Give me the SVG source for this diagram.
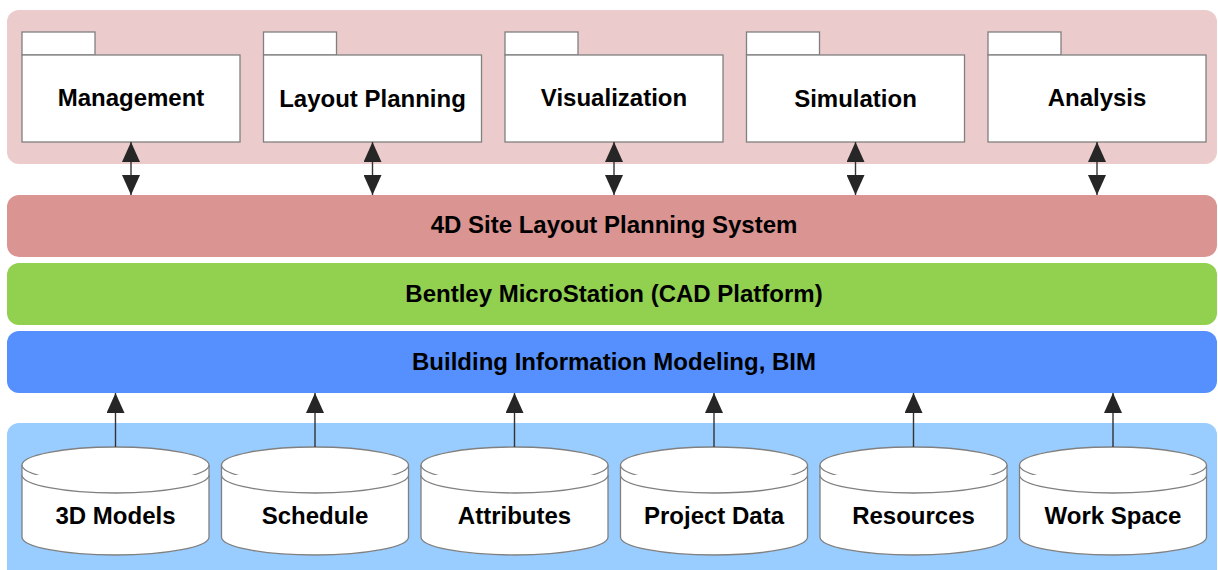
<svg xmlns="http://www.w3.org/2000/svg" width="1218" height="570" viewBox="0 0 1218 570">
<style>
text{font-family:"Liberation Sans",Arial,sans-serif;font-weight:bold;font-size:24px;fill:#000;text-anchor:middle}
.pkg{fill:#fff;stroke:#808080;stroke-width:1.3}
.cyl{fill:#fff;stroke:#808080;stroke-width:1.3}
.con{stroke:#333;stroke-width:1.4;fill:none}
</style>
<defs>
<marker id="ah" viewBox="0 0 20 18" refX="20" refY="9" markerWidth="20" markerHeight="18" markerUnits="userSpaceOnUse" orient="auto-start-reverse">
<path d="M0,0 L20,9 L0,18 Z" fill="#262626"/>
</marker>
<g id="cylshape">
<path class="cyl" d="M-93.5,465 A93.5,18 0 0 1 93.5,465 L93.5,537 A93.5,18 0 0 1 -93.5,537 Z"/>
<path class="cyl" fill="none" d="M-93.5,465 A93.5,18 0 0 0 93.5,465"/>
<path class="cyl" fill="none" d="M-93.5,475 A93.5,18 0 0 0 93.5,475"/>
</g>
</defs>
<g id="layers">
<rect x="7" y="10" width="1210" height="154" rx="12" fill="#EBCBCB"/>
<rect x="7" y="423" width="1210" height="160" rx="12" fill="#99CCFF"/>
</g>
<g id="bar-4d"><rect x="7" y="195" width="1210" height="62" rx="12" fill="#DA9491"/><text x="614" y="233">4D Site Layout Planning System</text></g>
<g id="bar-cad"><rect x="7" y="263" width="1210" height="62" rx="12" fill="#92D050"/><text x="614" y="302">Bentley MicroStation (CAD Platform)</text></g>
<g id="bar-bim"><rect x="7" y="331" width="1210" height="62" rx="12" fill="#5590FE"/><text x="614" y="370">Building Information Modeling, BIM</text></g>
<g id="pkg-management"><rect class="pkg" x="22" y="32" width="73" height="23"/><rect class="pkg" x="22" y="55" width="218" height="87"/><text x="131" y="106">Management</text></g>
<g id="pkg-layout"><rect class="pkg" x="263.5" y="32" width="73" height="23"/><rect class="pkg" x="263.5" y="55" width="218" height="87"/><text x="372.5" y="107">Layout Planning</text></g>
<g id="pkg-visualization"><rect class="pkg" x="505" y="32" width="73" height="23"/><rect class="pkg" x="505" y="55" width="218" height="87"/><text x="614" y="106">Visualization</text></g>
<g id="pkg-simulation"><rect class="pkg" x="746.5" y="32" width="73" height="23"/><rect class="pkg" x="746.5" y="55" width="218" height="87"/><text x="855.5" y="107">Simulation</text></g>
<g id="pkg-analysis"><rect class="pkg" x="988" y="32" width="73" height="23"/><rect class="pkg" x="988" y="55" width="218" height="87"/><text x="1097" y="106">Analysis</text></g>
<g id="db-3d"><use href="#cylshape" x="115.5"/><text x="115.5" y="524">3D Models</text></g>
<g id="db-schedule"><use href="#cylshape" x="315"/><text x="315" y="524">Schedule</text></g>
<g id="db-attributes"><use href="#cylshape" x="514.5"/><text x="514.5" y="524">Attributes</text></g>
<g id="db-project"><use href="#cylshape" x="714"/><text x="714" y="524">Project Data</text></g>
<g id="db-resources"><use href="#cylshape" x="913.5"/><text x="913.5" y="524">Resources</text></g>
<g id="db-workspace"><use href="#cylshape" x="1113"/><text x="1113" y="524">Work Space</text></g>
<g id="connectors">
<line class="con" x1="131" y1="142" x2="131" y2="195" marker-start="url(#ah)" marker-end="url(#ah)"/>
<line class="con" x1="372.5" y1="142" x2="372.5" y2="195" marker-start="url(#ah)" marker-end="url(#ah)"/>
<line class="con" x1="614" y1="142" x2="614" y2="195" marker-start="url(#ah)" marker-end="url(#ah)"/>
<line class="con" x1="855.5" y1="142" x2="855.5" y2="195" marker-start="url(#ah)" marker-end="url(#ah)"/>
<line class="con" x1="1097" y1="142" x2="1097" y2="195" marker-start="url(#ah)" marker-end="url(#ah)"/>
<line class="con" x1="115.5" y1="447" x2="115.5" y2="393" marker-end="url(#ah)"/>
<line class="con" x1="315" y1="447" x2="315" y2="393" marker-end="url(#ah)"/>
<line class="con" x1="514.5" y1="447" x2="514.5" y2="393" marker-end="url(#ah)"/>
<line class="con" x1="714" y1="447" x2="714" y2="393" marker-end="url(#ah)"/>
<line class="con" x1="913.5" y1="447" x2="913.5" y2="393" marker-end="url(#ah)"/>
<line class="con" x1="1113" y1="447" x2="1113" y2="393" marker-end="url(#ah)"/>
</g>
</svg>
